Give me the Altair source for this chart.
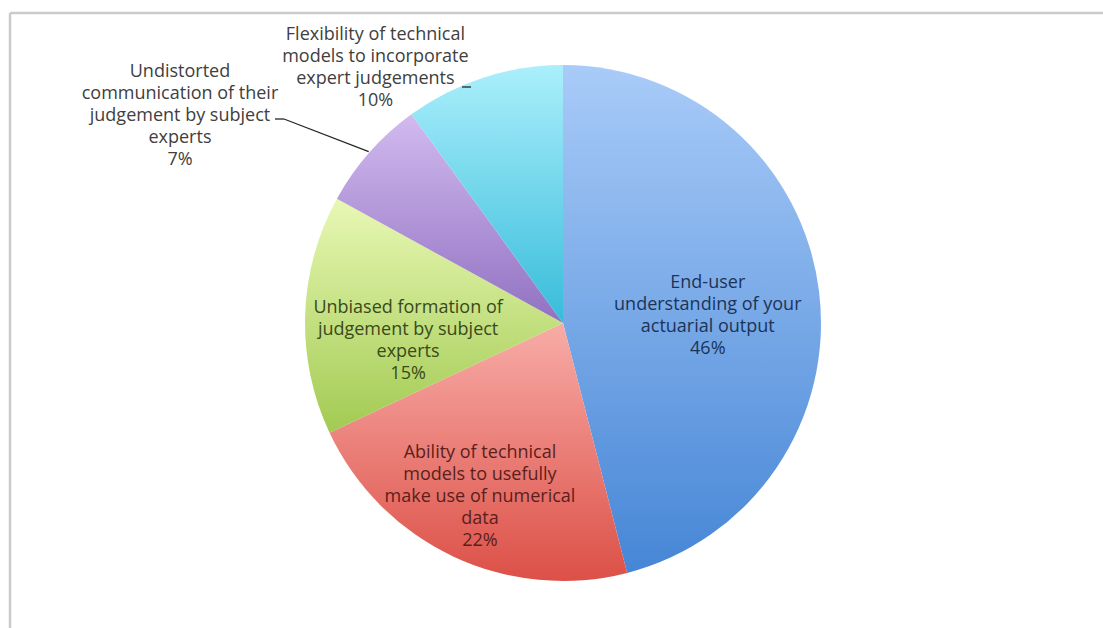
import altair as alt
import pandas as pd

# ---- data ----
categories = [
    "End-user understanding of your actuarial output",
    "Ability of technical models to usefully make use of numerical data",
    "Unbiased formation of judgement by subject experts",
    "Undistorted communication of their judgement by subject experts",
    "Flexibility of technical models to incorporate expert judgements",
]
values = [46, 22, 15, 7, 10]
label_lines = [
    ["End-user", "understanding of your", "actuarial output"],
    ["Ability of technical", "models to usefully", "make use of numerical", "data"],
    ["Unbiased formation of", "judgement by subject", "experts"],
    ["Undistorted", "communication of their", "judgement by subject", "experts"],
    ["Flexibility of technical", "models to incorporate", "expert judgements"],
]
pct_labels = ["46%", "22%", "15%", "7%", "10%"]

df = pd.DataFrame({"category": categories, "value": values})
df["end"] = df["value"].cumsum()
df["start"] = df["end"] - df["value"]
df["mid"] = (df["start"] + df["end"]) / 2
df["lines"] = [l + [p] for l, p in zip(label_lines, pct_labels)]

# ---- style ----
W, H = 1103, 628
CX, CY, R = 563, 323, 258
FONT = "Open Sans"
theta_scale = alt.Scale(domain=[0, 100], range=[0, 6.283185307179586])

grads = [
    ("#a9cbf8", "#4686d6"),
    ("#f8aca7", "#dc5047"),
    ("#e8f8b4", "#a2ca52"),
    ("#d2baef", "#9171c2"),
    ("#abeffb", "#37bcdb"),
]
text_colors = ["#1b3457", "#5a1f1c", "#3a4a18", "#404040", "#404040"]
# (label radius, dx, dy) -- first line of each label is placed at the anchor
label_pos = [
    (155, -9, -21),
    (195, 0, -46),
    (163, 8, -10),
    (300, -158, -53),
    (290, -98, -12),
]


def grad(c0, c1):
    return alt.LinearGradient(
        gradient="linear",
        x1=0, x2=0, y1=0, y2=1,
        stops=[alt.GradientStop(offset=0, color=c0), alt.GradientStop(offset=1, color=c1)],
    )


base = alt.Chart(df)
first = base.transform_filter(alt.FieldEqualPredicate(field="category", equal=categories[0]))
layers = []

# frame
layers.append(
    first.mark_rule(color="#cbcbcb", strokeWidth=2.5).encode(
        x=alt.value(10), x2=alt.value(W + 20), y=alt.value(13)
    )
)
layers.append(
    first.mark_rule(color="#cbcbcb", strokeWidth=2.5).encode(
        x=alt.value(10), y=alt.value(13), y2=alt.value(H + 20)
    )
)

for i, cat in enumerate(categories):
    sub = base.transform_filter(alt.FieldEqualPredicate(field="category", equal=cat))
    layers.append(
        sub.mark_arc(fill=grad(*grads[i]), radius=R, x=CX, y=CY).encode(
            theta=alt.Theta("start:Q", scale=theta_scale, stack=False),
            theta2=alt.Theta2("end:Q"),
        )
    )

for i, cat in enumerate(categories):
    sub = base.transform_filter(alt.FieldEqualPredicate(field="category", equal=cat))
    r, dx, dy = label_pos[i]
    layers.append(
        sub.mark_text(
            radius=r, dx=dx, dy=dy, x=CX, y=CY,
            font=FONT, fontSize=18, lineHeight=22,
            color=text_colors[i], align="center", baseline="middle",
        ).encode(
            theta=alt.Theta("mid:Q", scale=theta_scale, stack=False),
            text=alt.Text("lines"),
        )
    )

# leader line to the middle of the purple slice
tip_x = f"{CX} + {R + 1} * sin(datum.mid / 100 * 2 * PI)"
tip_y = f"{CY} - {R + 1} * cos(datum.mid / 100 * 2 * PI)"
layers.append(
    base.transform_filter(alt.FieldEqualPredicate(field="category", equal=categories[3]))
    .transform_calculate(sx="284", sy="119", tx=tip_x, ty=tip_y)
    .mark_rule(color="#262626", strokeWidth=1.3)
    .encode(
        x=alt.X("sx:Q", scale=None), y=alt.Y("sy:Q", scale=None),
        x2="tx:Q", y2="ty:Q",
    )
)
# short horizontal ticks after "subject" and "judgements"
layers.append(
    first.mark_rule(color="#262626", strokeWidth=1.3)
    .encode(x=alt.value(275), x2=alt.value(284), y=alt.value(119))
)
layers.append(
    first.mark_rule(color="#262626", strokeWidth=1.3)
    .encode(x=alt.value(462), x2=alt.value(471), y=alt.value(87))
)

chart = (
    alt.layer(*layers)
    .properties(width=W, height=H, autosize=alt.AutoSizeParams(type="none"), padding=0, background="white")
    .configure_view(strokeWidth=0)
)

chart.save("out.html", embed_options={"renderer": "svg", "actions": False})
